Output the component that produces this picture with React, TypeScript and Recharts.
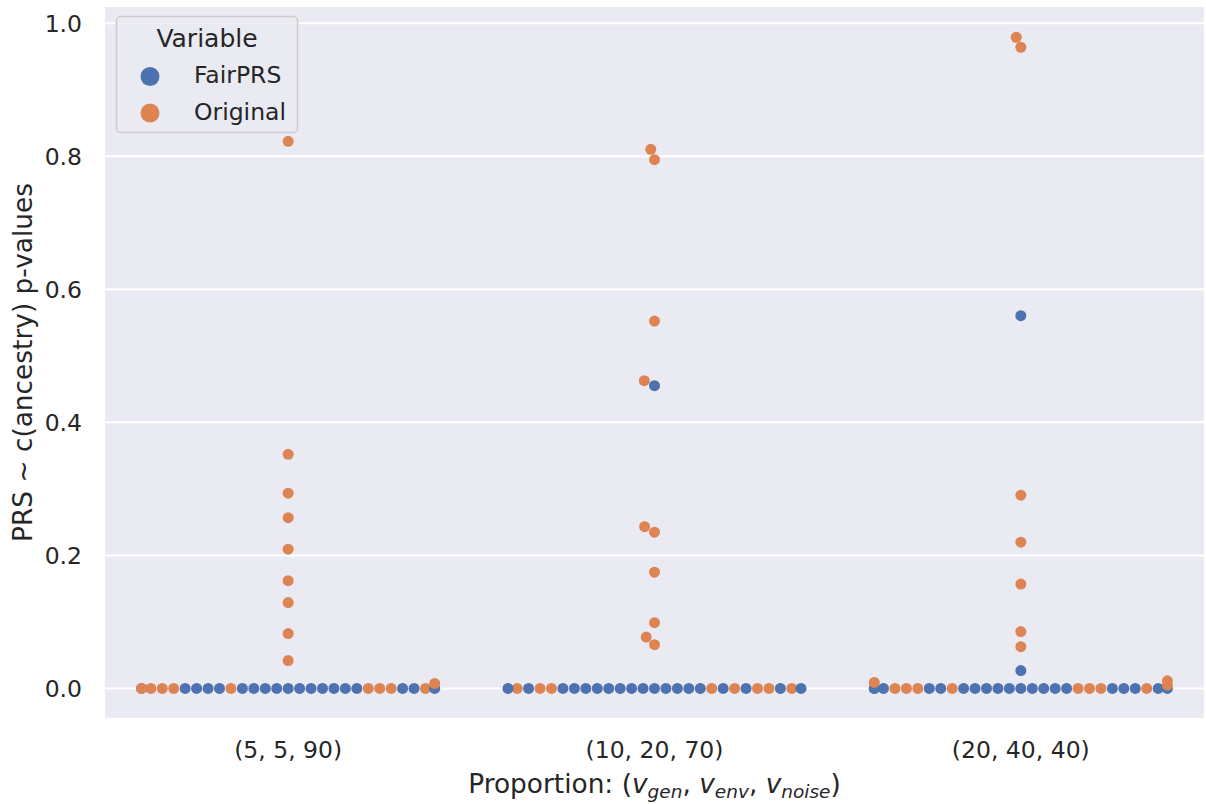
import { CartesianGrid, Scatter, ScatterChart, XAxis, YAxis } from "recharts";

const categories = ["(5, 5, 90)", "(10, 20, 70)", "(20, 40, 40)"];
const variables = ["FairPRS", "Original"];
const palette = ["#4C72B0", "#DD8452"];
const yTicks = [0, 0.2, 0.4, 0.6, 0.8, 1.0];

// runs whose p-value is ~0, in run order (F = FairPRS, O = Original)
const zeroRuns5 = "FFFFFFFFFOFFFFOFOFOOFOFOOFFO";
const zeroRuns10 = "FFFFFFFFFFOFFFOFFOOOOFFOOFF";
const zeroRuns20 = "FFFFFFFFFFOOOFOFFOFOFOOFFFFF";

// the other p-values
const fair5: number[] = [];
const orig5 = [0.0075, 0.0418, 0.0824, 0.129, 0.162, 0.2094, 0.2567, 0.2935, 0.352, 0.8226];
const fair10 = [0.4551];
const orig10 = [0.0658, 0.0771, 0.0989, 0.1748, 0.2349, 0.2432, 0.4626, 0.5523, 0.795, 0.8105];
const fair20 = [0.0268, 0.5604];
const orig20 = [0.005, 0.009, 0.0114, 0.0628, 0.0854, 0.1568, 0.2199, 0.2905, 0.964, 0.979];

const W = 1206;
const H = 804;
const M = { top: 6, right: 2, left: 0, bottom: 0 };
const Y_AXIS_W = 105;
const X_AXIS_H = 85;
const Y_DOMAIN: [number, number] = [-0.046, 1.026];
const INK = "#262626";
const TICK_FONT = 23.5;
const LABEL_FONT = 26.4;

const plotW = W - M.left - M.right - Y_AXIS_W;
const plotH = H - M.top - M.bottom - X_AXIS_H;
const pxPerCat = plotW / 3;
const pxPerP = plotH / (Y_DOMAIN[1] - Y_DOMAIN[0]);
const R = 5.45;

type Obs = { v: number; p: number };
type Pt = Obs & { y: number; dx: number };

// seaborn-style beeswarm in pixel space, then gutters at 0.4 of the category width
function swarm(obs: Obs[]): Pt[] {
  const pts: Pt[] = obs.map((o) => ({ ...o, y: o.p * pxPerP, dx: 0 }));
  const order = [...pts].sort((a, b) => a.y - b.y);
  const placed: Pt[] = [];
  const d2 = (2 * R) ** 2;
  for (const pt of order) {
    const nb = placed.filter((q) => pt.y - q.y < 2 * R);
    const cands: number[] = [0];
    let leftFirst = true;
    for (const q of nb) {
      const dy = pt.y - q.y;
      const dx = Math.sqrt(Math.max(d2 - dy * dy, 0)) * 1.05;
      if (leftFirst) cands.push(q.dx - dx, q.dx + dx);
      else cands.push(q.dx + dx, q.dx - dx);
      leftFirst = !leftFirst;
    }
    const sorted = cands
      .map((c, k) => ({ c, k }))
      .sort((a, b) => Math.abs(a.c) - Math.abs(b.c) || a.k - b.k);
    for (const { c } of sorted) {
      if (nb.every((q) => (c - q.dx) ** 2 + (pt.y - q.y) ** 2 >= d2 - 1e-9)) {
        pt.dx = c;
        break;
      }
    }
    placed.push(pt);
  }
  const half = 0.4 * pxPerCat;
  pts.forEach((p) => (p.dx = Math.max(-half, Math.min(half, p.dx))));
  return pts;
}

function buildCategory(i: number, zeros: string, fair: number[], orig: number[]) {
  const obs: Obs[] = [
    ...zeros.split("").map((ch) => ({ v: ch === "F" ? 0 : 1, p: 0 })),
    ...fair.map((p) => ({ v: 0, p })),
    ...orig.map((p) => ({ v: 1, p })),
  ];
  return swarm(obs).map((pt) => ({
    x: i + pt.dx / pxPerCat,
    y: pt.p,
    color: palette[pt.v],
  }));
}

const points = [
  ...buildCategory(0, zeroRuns5, fair5, orig5),
  ...buildCategory(1, zeroRuns10, fair10, orig10),
  ...buildCategory(2, zeroRuns20, fair20, orig20),
];

const Dot = (props: any) => (
  <circle cx={props.cx} cy={props.cy} r={5.5} fill={props.payload.color} />
);

const XTitle = (props: any) => {
  const vb = props.viewBox || { x: Y_AXIS_W, y: M.top + plotH, width: plotW, height: X_AXIS_H };
  const cx = vb.x + vb.width / 2;
  const y = vb.y + 74;
  const sub = 18.5;
  return (
    <text x={cx} y={y} textAnchor="middle" fontSize={LABEL_FONT} fill={INK}>
      {"Proportion: ("}
      <tspan fontStyle="italic">v</tspan>
      <tspan fontStyle="italic" fontSize={sub} dy={5}>gen</tspan>
      <tspan dy={-5}>{", "}</tspan>
      <tspan fontStyle="italic">v</tspan>
      <tspan fontStyle="italic" fontSize={sub} dy={5}>env</tspan>
      <tspan dy={-5}>{", "}</tspan>
      <tspan fontStyle="italic">v</tspan>
      <tspan fontStyle="italic" fontSize={sub} dy={5}>noise</tspan>
      <tspan dy={-5}>)</tspan>
    </text>
  );
};

const YTitle = (props: any) => {
  const vb = props.viewBox || { x: 0, y: M.top, width: Y_AXIS_W, height: plotH };
  const x = vb.x + 32;
  const cy = vb.y + vb.height / 2;
  return (
    <text
      x={x}
      y={cy}
      textAnchor="middle"
      fontSize={LABEL_FONT}
      fill={INK}
      transform={`rotate(-90 ${x} ${cy})`}
    >
      PRS ~ c(ancestry) p-values
    </text>
  );
};

function LegendBox() {
  return (
    <svg
      width={W}
      height={H}
      style={{ position: "absolute", left: 0, top: 0, pointerEvents: "none", fontFamily: "DejaVu Sans" }}
    >
      <rect x={116.5} y={16.5} width={181} height={116} rx={4} fill="#EAEAF2" fillOpacity={0.8} stroke="#CCCCCC" strokeWidth={1.5} />
      <text x={207} y={46.5} textAnchor="middle" fontSize={25} fill={INK}>
        Variable
      </text>
      {variables.map((name, i) => (
        <g key={name}>
          <circle cx={150} cy={76.5 + i * 36.5} r={9.5} fill={palette[i]} />
          <text x={194} y={83 + i * 37} fontSize={23.5} fill={INK}>
            {name}
          </text>
        </g>
      ))}
    </svg>
  );
}

export default function App() {
  return (
    <div style={{ position: "absolute", left: 0, top: 0, width: W, height: H, background: "#fff", fontFamily: "DejaVu Sans" }}>
      <ScatterChart width={W} height={H} margin={M} style={{ fontFamily: "DejaVu Sans" }}>
        <CartesianGrid vertical={false} stroke="#FFFFFF" strokeWidth={2} fill="#EAEAF2" fillOpacity={1} />
        <XAxis
          type="number"
          dataKey="x"
          domain={[-0.5, 2.5]}
          ticks={[0, 1, 2]}
          tickFormatter={(i: number) => categories[i]}
          allowDataOverflow
          height={X_AXIS_H}
          axisLine={false}
          tickLine={false}
          tickSize={0}
          tickMargin={22}
          tick={{ fontSize: TICK_FONT, fill: INK }}
          label={XTitle}
        />
        <YAxis
          type="number"
          dataKey="y"
          domain={Y_DOMAIN}
          ticks={yTicks}
          tickFormatter={(v: number) => v.toFixed(1)}
          allowDataOverflow
          width={Y_AXIS_W}
          axisLine={false}
          tickLine={false}
          tickSize={0}
          tickMargin={23}
          tick={{ fontSize: TICK_FONT, fill: INK }}
          label={YTitle}
        />
        <Scatter data={points} shape={Dot} isAnimationActive={false} />
      </ScatterChart>
      <LegendBox />
    </div>
  );
}
